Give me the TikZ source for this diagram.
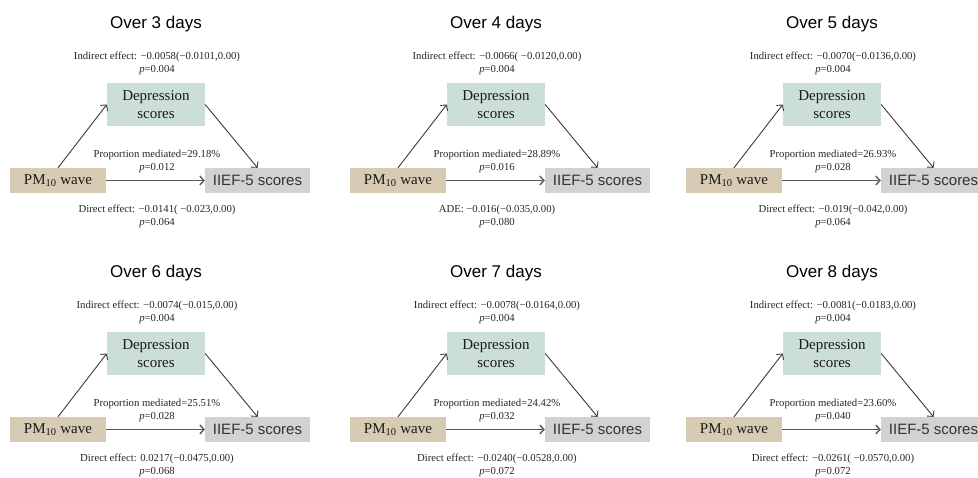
\documentclass[tikz,border=0pt]{standalone}
\usepackage{fontspec}
\setmainfont{Liberation Serif}
\setsansfont{Liberation Sans}
\usetikzlibrary{arrows.meta}
\definecolor{depgreen}{HTML}{CBDFD8}
\definecolor{pmbeige}{HTML}{D8CBB4}
\definecolor{iiefgray}{HTML}{D3D1D1}
\definecolor{arrowgray}{HTML}{3A3A3A}

\begin{document}
\begin{tikzpicture}[x=1pt,y=-1pt,
  box/.style={inner sep=0pt,minimum height=25pt,font=\fontsize{15}{18}\selectfont},
  lbl/.style={align=center,font=\fontsize{10.7}{13}\selectfont,text=black!85},
  ttl/.style={font=\sffamily\fontsize{17}{17}\selectfont},
  arr/.style={-{Straight Barb[length=4pt,width=9pt]},draw=arrowgray,line width=0.9pt}]

\clip (0,0) rectangle (978,477);

\def\colgap{340};
\def\rowgap{249};

\def\medpanel#1#2#3#4#5#6#7#8{%
\begin{scope}[shift={(#1,#2)}]
\node[ttl] (title#3) at (156,24) {Over #3 days};
\node[lbl] (ind#3) at (157,63.5) {Indirect effect: #4\\\textit{p}=0.004};

\node[box,fill=depgreen,minimum width=98pt,minimum height=43pt,align=center,text=black!90] (dep#3) at (156,104.5) {Depression\\scores};
\node[box,fill=pmbeige,minimum width=96pt,text=black!90] (pm#3) at (58,180.5) {PM\textsubscript{10} wave};
\node[box,fill=iiefgray,minimum width=105pt,text=black!80,font=\sffamily\fontsize{15}{18}\selectfont] (iief#3) at (257.5,180.5) {IIEF-5 scores};

\node[lbl] (prop#3) at (157,161) {Proportion mediated=#5\%\\\textit{p}=#6};
\node[lbl] (dir#3) at (157,216) {#7\\\textit{p}=#8};

\draw[arr] (pm#3.north) -- (dep#3.west);
\draw[arr] (dep#3.east) -- (iief#3.north);
\draw[arr,draw=black!65,line width=1.4pt] (pm#3.east) -- (iief#3.west);
\end{scope}}

% first row
\medpanel{0}{0}{3}{−0.0058(−0.0101,0.00)}{29.18}{0.012}{Direct effect: −0.0141( −0.023,0.00)}{0.064}
\medpanel{\colgap}{0}{4}{−0.0066( −0.0120,0.00)}{28.89}{0.016}{ADE: −0.016(−0.035,0.00)}{0.080}
\medpanel{676}{0}{5}{−0.0070(−0.0136,0.00)}{26.93}{0.028}{Direct effect: −0.019(−0.042,0.00)}{0.064}

% second row
\medpanel{0}{\rowgap}{6}{−0.0074(−0.015,0.00)}{25.51}{0.028}{Direct effect: 0.0217(−0.0475,0.00)}{0.068}
\medpanel{\colgap}{\rowgap}{7}{−0.0078(−0.0164,0.00)}{24.42}{0.032}{Direct effect: −0.0240(−0.0528,0.00)}{0.072}
\medpanel{676}{\rowgap}{8}{−0.0081(−0.0183,0.00)}{23.60}{0.040}{Direct effect: −0.0261( −0.0570,0.00)}{0.072}

\end{tikzpicture}
\end{document}
